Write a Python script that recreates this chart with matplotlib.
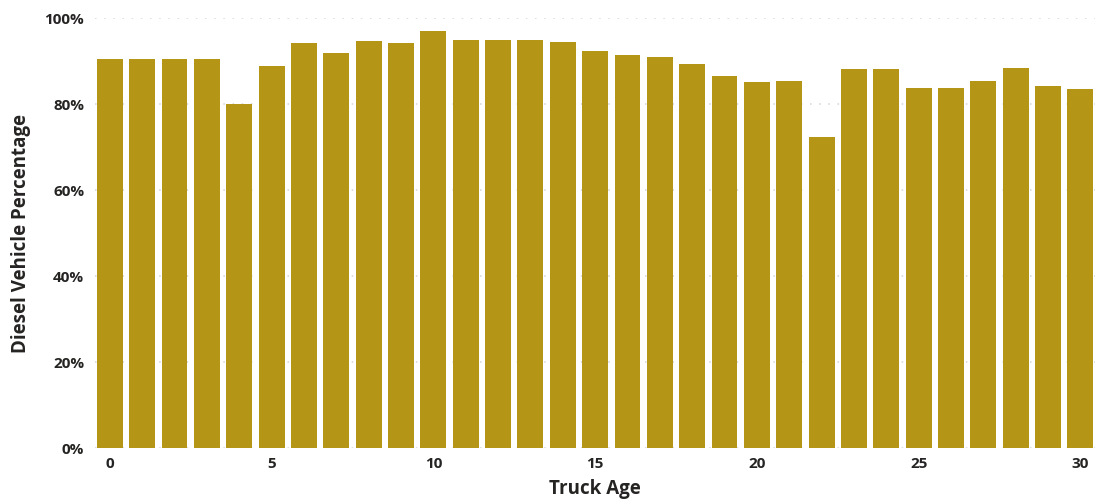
import numpy as np
import matplotlib
matplotlib.use("Agg")
import matplotlib.pyplot as plt
from matplotlib.ticker import PercentFormatter

# truck age vs share of diesel vehicles
truck_age = list(range(31))
diesel_pct = [90.6, 90.6, 90.6, 90.6, 80.1, 89.0, 94.3, 91.9, 94.7, 94.2,
              97.0, 94.9, 94.9, 94.9, 94.4, 92.3, 91.4, 90.9, 89.3, 86.6,
              85.2, 85.4, 72.5, 88.2, 88.2, 83.9, 83.7, 85.5, 88.5, 84.3,
              83.6]
y_ticks = [0, 20, 40, 60, 80, 100]
x_ticks = [0, 5, 10, 15, 20, 25, 30]

bar_color = "#B59516"
text_color = "#252423"

plt.rcParams['font.family'] = ['Open Sans', 'DejaVu Sans']

fig = plt.figure(figsize=(10.95, 5.04), dpi=100)
ax = fig.add_axes([0.087, 0.1105, 0.913, 0.8532])

ax.bar(truck_age, diesel_pct, width=0.8, color=bar_color, zorder=3)

ax.set_ylim(0, 100)
ax.set_xlim(-0.45, 30.45)
ax.set_yticks(y_ticks)
ax.set_xticks(x_ticks)
ax.yaxis.set_major_formatter(PercentFormatter(decimals=0))
ax.grid(axis='y', color='#D4D4D4', linestyle=(0, (1, 5)), linewidth=1.1, zorder=0)

for s in ax.spines.values():
    s.set_visible(False)
ax.tick_params(length=0, labelsize=11, labelcolor=text_color)
ax.tick_params(axis='y', pad=8)
ax.tick_params(axis='x', pad=6)
for lbl in ax.get_xticklabels() + ax.get_yticklabels():
    lbl.set_fontweight('bold')

ax.set_xlabel("Truck Age", fontsize=13.5, fontweight='bold', color=text_color, labelpad=6)
ax.set_ylabel("Diesel Vehicle Percentage", fontsize=13.5, fontweight='bold', color=text_color, labelpad=10)

fig.savefig("out.png", dpi=100)
